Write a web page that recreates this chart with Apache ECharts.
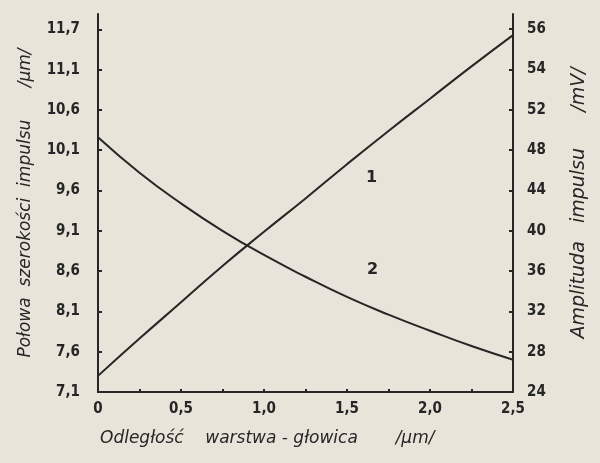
<!DOCTYPE html>
<html>
<head>
<meta charset="utf-8">
<script src="https://cdn.jsdelivr.net/npm/echarts@6/dist/echarts.min.js"></script>
<style>
  html, body { margin: 0; padding: 0; background: #e9e4da; }
  #chart { width: 600px; height: 463px; }
</style>
</head>
<body>
<div id="chart"></div>
<script>
// Distance layer - head, micrometres
const distance = [0, 0.25, 0.5, 0.75, 1.0, 1.25, 1.5, 1.75, 2.0, 2.25, 2.5];
// Curve 1: pulse amplitude (right axis scale)
const amplitude = [25.6, 29.3, 32.9, 36.5, 39.9, 43.2, 46.6, 49.9, 53.1, 56.3, 59.4];
// Curve 2: pulse half-width, micrometres (left axis)
const halfWidth = [10.26, 9.82, 9.44, 9.10, 8.80, 8.53, 8.28, 8.06, 7.86, 7.67, 7.50];

// Tick positions and printed tick labels
const xLabelValues = [0, 0.5, 1.0, 1.5, 2.0, 2.5];
const xLabelText = ['0', '0,5', '1,0', '1,5', '2,0', '2,5'];
const xTickValues = [0.25, 0.5, 0.75, 1.0, 1.25, 1.5, 1.75, 2.0, 2.25];
const leftTickValues = [7.1, 7.6, 8.1, 8.6, 9.1, 9.6, 10.1, 10.6, 11.1, 11.6];
const leftTickText = ['7,1', '7,6', '8,1', '8,6', '9,1', '9,6', '10,1', '10,6', '11,1', '11,7'];
const rightTickValues = [24, 28, 32, 36, 40, 44, 48, 52, 56, 60];
const rightTickText = ['24', '28', '32', '36', '40', '44', '48', '52', '54', '56'];

const ink = '#262626';
const labelFont = 'DejaVu Sans Condensed';

function pick(values, texts) {
  return function (v) {
    for (let i = 0; i < values.length; i++) {
      if (Math.abs(values[i] - v) < 1e-6) return texts[i];
    }
    return '';
  };
}

const chart = echarts.init(document.getElementById('chart'));
chart.setOption({
  backgroundColor: '#e9e4da',
  animation: false,
  grid: { left: 98, right: 87, top: 14, bottom: 71 },
  xAxis: {
    type: 'value',
    min: 0,
    max: 2.5,
    axisLine: { show: true, lineStyle: { color: ink, width: 2 } },
    axisTick: { show: true, inside: true, length: 3, customValues: xTickValues, lineStyle: { color: ink, width: 2 } },
    axisLabel: {
      customValues: xLabelValues,
      formatter: pick(xLabelValues, xLabelText),
      color: ink, fontFamily: labelFont, fontWeight: 'bold', fontSize: 15, margin: 10
    },
    splitLine: { show: false }
  },
  yAxis: [
    {
      type: 'value',
      position: 'left',
      min: 7.1,
      max: 11.79,
      name: 'Połowa  szerokości  impulsu      /µm/',
      nameLocation: 'middle',
      nameGap: 64,
      nameRotate: 90,
      nameTextStyle: { color: ink, fontFamily: 'DejaVu Sans', fontStyle: 'italic', fontSize: 17 },
      axisLine: { show: true, lineStyle: { color: ink, width: 2 } },
      axisTick: { show: true, inside: true, length: 4, customValues: leftTickValues, lineStyle: { color: ink, width: 2 } },
      axisLabel: {
        customValues: leftTickValues,
        formatter: pick(leftTickValues, leftTickText),
        color: ink, fontFamily: labelFont, fontWeight: 'bold', fontSize: 15, margin: 18
      },
      splitLine: { show: false }
    },
    {
      type: 'value',
      position: 'right',
      min: 24,
      max: 61.5,
      name: 'Amplituda   impulsu      /mV/',
      nameLocation: 'middle',
      nameGap: 57,
      nameRotate: 90,
      nameTextStyle: { color: ink, fontFamily: 'DejaVu Sans', fontStyle: 'italic', fontSize: 19 },
      axisLine: { show: true, lineStyle: { color: ink, width: 2 } },
      axisTick: { show: true, inside: true, length: 4, customValues: rightTickValues, lineStyle: { color: ink, width: 2 } },
      axisLabel: {
        customValues: rightTickValues,
        formatter: pick(rightTickValues, rightTickText),
        color: ink, fontFamily: labelFont, fontWeight: 'bold', fontSize: 15, margin: 14
      },
      splitLine: { show: false }
    }
  ],
  series: [
    {
      name: '1',
      type: 'line',
      yAxisIndex: 1,
      smooth: true,
      showSymbol: false,
      lineStyle: { color: ink, width: 2 },
      data: distance.map((d, i) => [d, amplitude[i]])
    },
    {
      name: '2',
      type: 'line',
      yAxisIndex: 0,
      smooth: true,
      showSymbol: false,
      lineStyle: { color: ink, width: 2 },
      data: distance.map((d, i) => [d, halfWidth[i]])
    }
  ],
  graphic: [
    {
      type: 'text', left: 100, top: 430,
      style: { text: 'Odległość    warstwa - głowica       /µm/', fill: ink, font: 'italic 17px "DejaVu Sans"' }
    },
    {
      type: 'text', left: 366, top: 170,
      style: { text: '1', fill: ink, font: 'bold 16px "DejaVu Sans"' }
    },
    {
      type: 'text', left: 367, top: 262,
      style: { text: '2', fill: ink, font: 'bold 16px "DejaVu Sans"' }
    }
  ]
});
</script>
</body>
</html>
